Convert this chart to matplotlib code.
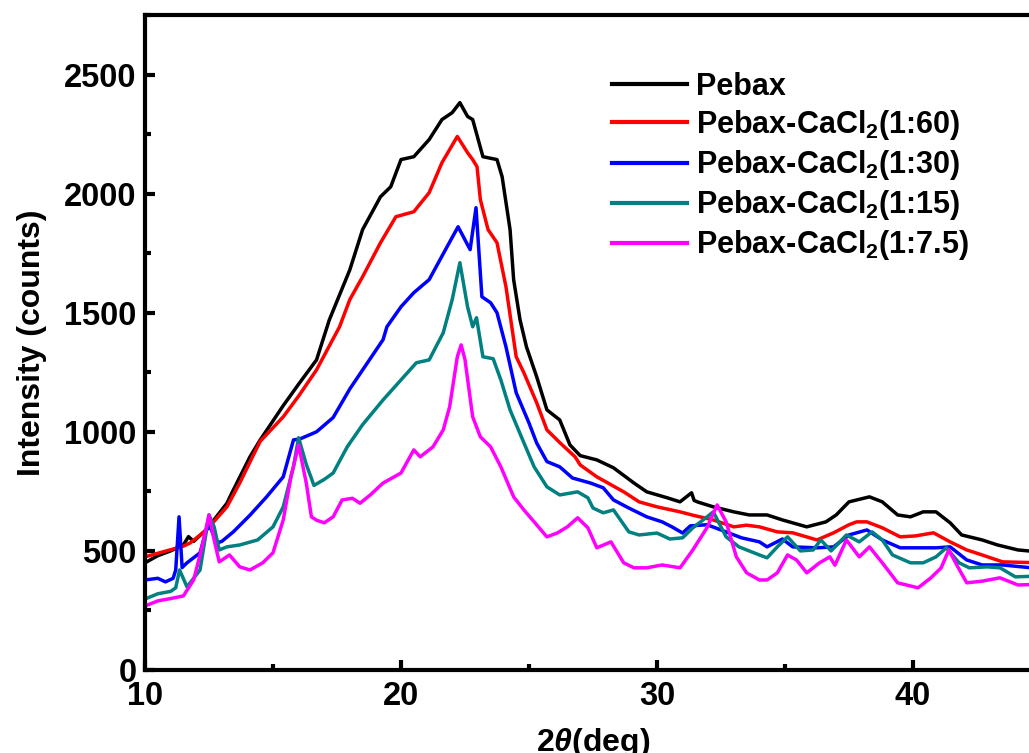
import matplotlib
matplotlib.use("Agg")
from matplotlib import pyplot as plt
from matplotlib.ticker import MultipleLocator

# values (2theta in deg, intensity in counts)
black_x = [10, 10.5, 11.0, 11.5, 11.7, 11.9, 12.4, 13.2, 13.4, 14.1, 14.5, 15.4, 16.0, 16.7, 17.2,
           18.0, 18.5, 19.2, 19.6, 20.0, 20.5, 21.1, 21.6, 22.0, 22.3, 22.6, 22.8, 23.2, 23.75, 23.95,
           24.26, 24.4, 24.65, 24.9, 25.3, 25.7, 26.2, 26.6, 27.0, 27.65, 28.3, 29.1, 29.6, 30.4, 30.9,
           31.35, 31.45, 31.6, 32.2, 33.0, 33.6, 34.3, 34.9, 35.85, 36.6, 37.0, 37.5, 38.3, 38.8, 39.4,
           39.9, 40.4, 40.9, 41.45, 41.9, 42.7, 43.3, 44.1, 45.0]
black_y = [450, 480, 500, 525, 560, 540, 590, 700, 745, 895, 966, 1110, 1200, 1302, 1470,
           1680, 1849, 1987, 2029, 2143, 2155, 2227, 2311, 2340, 2382, 2324, 2311, 2155, 2143, 2071,
           1849, 1639, 1470, 1357, 1231, 1092, 1050, 945, 900, 882, 849, 785, 748, 723, 706,
           744, 712, 705, 685, 664, 651, 651, 630, 601, 622, 651, 706, 727, 706, 651,
           643, 664, 664, 618, 567, 546, 525, 504, 495]

red_x = [10, 10.5, 11.0, 11.5, 11.76, 12.4, 13.2, 13.7, 14.2, 14.5, 15.4, 16.0, 16.7, 17.6, 18.0,
         18.5, 19.2, 19.8, 20.5, 21.1, 21.6, 22.2, 22.6, 22.8, 22.97, 23.1, 23.4, 23.75, 24.1, 24.5,
         24.8, 25.3, 25.7, 26.2, 26.8, 27.0, 27.65, 28.0, 28.7, 29.3, 30.0, 30.9, 31.4, 32.2, 33.0,
         33.5, 34.0, 34.7, 35.3, 36.25, 36.9, 37.5, 37.8, 38.2, 38.8, 39.5, 40.1, 40.8, 41.45, 42.1,
         42.7, 43.5, 45.0]
red_y = [475, 490, 505, 520, 533, 588, 685, 785, 895, 960, 1063, 1150, 1260, 1441, 1555,
         1651, 1794, 1903, 1924, 2004, 2130, 2240, 2172, 2143, 2113, 1975, 1849, 1794, 1609, 1315,
         1248, 1122, 1008, 955, 895, 861, 811, 790, 748, 706, 685, 664, 650, 630, 601,
         608, 601, 580, 576, 546, 576, 610, 622, 622, 597, 559, 563, 576, 538, 504,
         483, 454, 450]

blue_x = [10, 10.5, 10.8, 11.1, 11.2, 11.33, 11.45, 11.64, 12.15, 12.4, 12.55, 12.8, 13.0, 13.45, 14.1,
          14.75, 15.4, 15.8, 16.05, 16.7, 17.35, 18.0, 19.3, 19.45, 20.0, 20.5, 21.1, 21.8, 22.23, 22.7,
          22.93, 23.16, 23.5, 23.75, 24.1, 24.5, 25.0, 25.3, 25.7, 26.2, 26.7, 27.4, 27.9, 28.3, 28.9,
          29.6, 30.2, 30.6, 31.0, 31.3, 31.95, 32.5, 33.3, 34.0, 34.3, 34.9, 35.3, 36.25, 36.9, 37.5,
          38.2, 38.8, 39.5, 40.1, 40.9, 41.45, 42.1, 42.7, 43.5, 45.0]
blue_y = [378, 385, 370, 385, 420, 643, 430, 450, 492, 590, 600, 533, 540, 580, 650,
          727, 811, 966, 970, 1000, 1060, 1180, 1387, 1441, 1525, 1584, 1639, 1777, 1861, 1765,
          1941, 1567, 1542, 1500, 1357, 1164, 1037, 953, 875, 853, 806, 785, 765, 714, 680,
          643, 622, 600, 575, 605, 610, 588, 555, 538, 517, 550, 517, 513, 517, 567,
          588, 546, 513, 513, 513, 517, 462, 441, 441, 425]

teal_x = [10, 10.5, 11.0, 11.2, 11.35, 11.64, 12.15, 12.5, 12.7, 12.9, 13.2, 13.7, 14.4, 15.0, 15.4,
          15.8, 16.0, 16.3, 16.6, 17.0, 17.35, 17.9, 18.5, 19.3, 20.0, 20.6, 21.1, 21.65, 22.0, 22.3,
          22.6, 22.8, 22.95, 23.2, 23.6, 23.9, 24.26, 24.8, 25.2, 25.7, 26.2, 26.9, 27.3, 27.5, 27.9,
          28.3, 28.9, 29.3, 30.0, 30.5, 31.0, 31.4, 31.8, 32.2, 32.7, 33.2, 34.0, 34.3, 34.7, 35.1,
          35.6, 36.1, 36.4, 36.8, 37.4, 37.9, 38.4, 38.8, 39.2, 39.9, 40.4, 40.9, 41.3, 41.8, 42.2,
          42.9, 43.4, 44.0, 45.0]
teal_y = [298, 320, 330, 345, 420, 349, 420, 651, 601, 504, 517, 525, 546, 601, 685,
          853, 975, 863, 775, 800, 827, 937, 1030, 1134, 1218, 1290, 1302, 1416, 1555, 1710,
          1525, 1441, 1479, 1315, 1307, 1218, 1092, 954, 853, 769, 735, 748, 723, 680, 660,
          672, 580, 567, 575, 550, 555, 597, 630, 664, 559, 517, 483, 471, 517, 559,
          500, 504, 546, 500, 567, 538, 580, 546, 483, 450, 450, 475, 513, 450, 429,
          433, 429, 391, 395]

mag_x = [10, 10.5, 11.0, 11.5, 11.9, 12.2, 12.5, 12.7, 12.9, 13.3, 13.7, 14.1, 14.6, 15.0, 15.4,
         15.7, 16.0, 16.3, 16.5, 16.7, 17.0, 17.35, 17.7, 18.1, 18.4, 18.8, 19.3, 20.0, 20.5, 20.75,
         21.25, 21.65, 21.9, 22.2, 22.35, 22.5, 22.8, 23.1, 23.5, 23.9, 24.4, 24.8, 25.2, 25.7, 26.1,
         26.5, 26.9, 27.3, 27.65, 28.2, 28.7, 29.1, 29.6, 30.2, 30.9, 31.4, 31.95, 32.35, 32.7, 33.1,
         33.5, 34.0, 34.3, 34.7, 35.1, 35.45, 35.85, 36.35, 36.75, 36.95, 37.4, 37.9, 38.3, 38.8, 39.4,
         40.2, 40.7, 41.1, 41.4, 41.75, 42.1, 42.7, 43.4, 44.1, 45.0]
mag_y = [269, 290, 300, 311, 378, 504, 651, 546, 454, 483, 433, 420, 450, 492, 630,
         811, 945, 785, 643, 629, 618, 643, 714, 721, 700, 735, 785, 827, 924, 895,
         937, 1008, 1105, 1315, 1365, 1303, 1063, 979, 937, 853, 727, 672, 622, 559, 575,
         601, 639, 597, 513, 538, 450, 429, 429, 441, 429, 504, 597, 693, 622, 475,
         408, 378, 378, 408, 483, 462, 408, 450, 475, 440, 546, 475, 517, 450, 366,
         345, 387, 429, 504, 433, 366, 373, 387, 357, 360]

labels = ["Pebax", "Pebax-CaCl$_2$(1:60)", "Pebax-CaCl$_2$(1:30)",
          "Pebax-CaCl$_2$(1:15)", "Pebax-CaCl$_2$(1:7.5)"]
colores = ["#000000", "#ff0000", "#0000ff", "#008080", "#ff00ff"]

plt.rcParams['font.family'] = ['Liberation Sans', 'DejaVu Sans']
plt.rcParams['font.weight'] = 'bold'
plt.rcParams['mathtext.fontset'] = 'custom'
plt.rcParams['mathtext.rm'] = 'Liberation Sans:bold'
plt.rcParams['mathtext.it'] = 'Liberation Sans:italic'
plt.rcParams['mathtext.default'] = 'rm'

fig = plt.figure(figsize=(10.29, 7.53), dpi=100)
W, H = 1029, 753
ax = fig.add_axes([145 / W, 83 / H, 896 / W, 655 / H])

series = [(black_x, black_y), (red_x, red_y), (blue_x, blue_y), (teal_x, teal_y), (mag_x, mag_y)]
for (xs, ys), lab, c in zip(series, labels, colores):
    ax.plot(xs, ys, color=c, lw=2.5, label=lab)

ax.set_xlim(10, 45)
ax.set_ylim(0, 2750)
ax.xaxis.set_major_locator(MultipleLocator(10))
ax.xaxis.set_minor_locator(MultipleLocator(5))
ax.yaxis.set_major_locator(MultipleLocator(500))
ax.yaxis.set_minor_locator(MultipleLocator(250))

for s in ax.spines.values():
    s.set_linewidth(3)
ax.tick_params(which='major', direction='in', length=7, width=3, labelsize=23.5, pad=6)
ax.tick_params(which='minor', direction='in', length=4, width=3)
ax.tick_params(axis='x', which='major', pad=8)

ax.set_xlabel(r"2$\it{\theta}$(deg)", fontsize=23, fontweight='bold', labelpad=10)
ax.set_ylabel("Intensity (counts)", fontsize=23, fontweight='bold', labelpad=12)

leg = ax.legend(loc='upper left', bbox_to_anchor=(612 / W, 1 - 72 / H),
                bbox_transform=fig.transFigure, frameon=False, fontsize=22,
                handlelength=2.45, handletextpad=0.3, labelspacing=0.2,
                borderpad=0, borderaxespad=0)
for t in leg.get_texts():
    t.set_fontweight('bold')
for l in leg.get_lines():
    l.set_linewidth(3)

fig.savefig("out.png", dpi=100)
